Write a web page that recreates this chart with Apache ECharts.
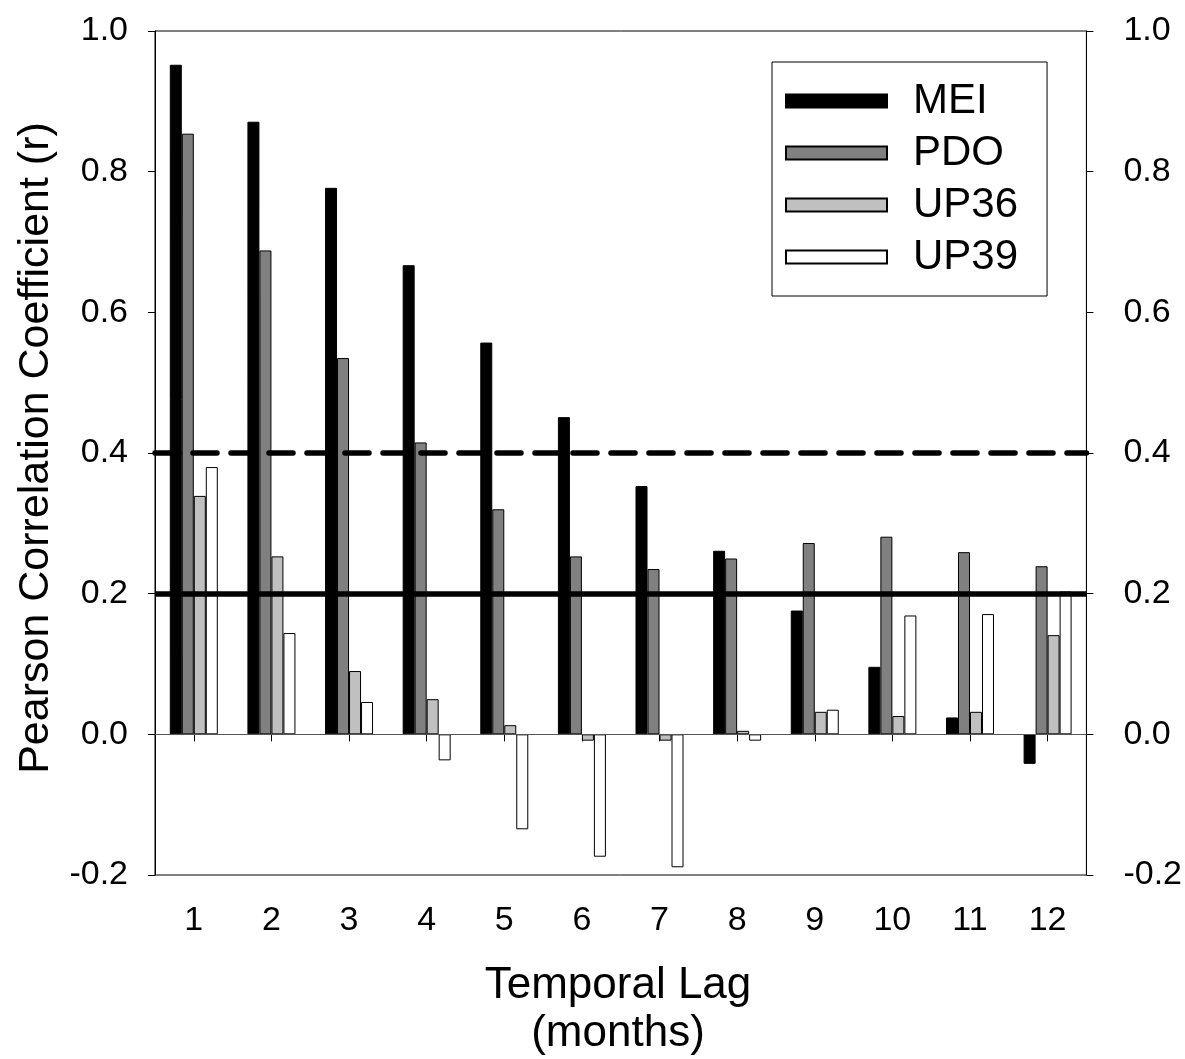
<!DOCTYPE html>
<html>
<head>
<meta charset="utf-8">
<script src="https://cdn.jsdelivr.net/npm/echarts@6/dist/echarts.min.js"></script>
<style>
html,body{margin:0;padding:0;background:#fff;}
#chart{width:1185px;height:1059px;}
</style>
</head>
<body>
<div id="chart"></div>
<script>
const categories = ['1','2','3','4','5','6','7','8','9','10','11','12'];
const MEI  = [0.952, 0.871, 0.777, 0.667, 0.557, 0.451, 0.353, 0.261, 0.176, 0.096, 0.024, -0.042];
const PDO  = [0.854, 0.688, 0.535, 0.415, 0.320, 0.253, 0.235, 0.250, 0.272, 0.281, 0.259, 0.239];
const UP36 = [0.339, 0.253, 0.090, 0.050, 0.013, -0.009, -0.009, 0.005, 0.032, 0.026, 0.032, 0.141];
const UP39 = [0.380, 0.144, 0.046, -0.037, -0.135, -0.174, -0.189, -0.009, 0.035, 0.169, 0.171, 0.203];
const yTicks = {min: -0.2, max: 1.0, interval: 0.2};
const dashedLevel = 0.4;
const solidLevel = 0.196;

const FONT = '"Liberation Sans", Arial, sans-serif';
const chart = echarts.init(document.getElementById('chart'), null, {renderer: 'canvas'});

function barSeries(name, data, color) {
  return {
    name: name, type: 'bar', data: data,
    barWidth: 12, barGap: '0%',
    itemStyle: {color: color, borderColor: '#000', borderWidth: 1},
    emphasis: {disabled: true},
    silent: true
  };
}

const yAxisCommon = {
  type: 'value', min: yTicks.min, max: yTicks.max, interval: yTicks.interval,
  axisLine: {show: true, lineStyle: {color: '#000', width: 1}},
  axisTick: {show: true, length: 7, lineStyle: {color: '#000', width: 1}},
  splitLine: {show: false},
  axisLabel: {color: '#000', fontSize: 34, fontFamily: FONT, formatter: v => v.toFixed(1)}
};

chart.setOption({
  animation: false,
  backgroundColor: '#fff',
  grid: {left: 155, right: 94, top: 31, bottom: 184, show: true, borderColor: '#000', borderWidth: 1},
  legend: {
    data: ['MEI', 'PDO', 'UP36', 'UP39'],
    orient: 'vertical', left: 772, top: 62,
    icon: 'rect', itemWidth: 101, itemHeight: 13, itemGap: 10,
    padding: [18, 29, 18, 13],
    borderColor: '#000', borderWidth: 1, backgroundColor: '#fff',
    textStyle: {color: '#000', fontSize: 42, fontFamily: FONT, lineHeight: 42, padding: [0, 0, 0, 21]},
    selectedMode: false
  },
  xAxis: {
    type: 'category', data: categories,
    axisLine: {show: true, lineStyle: {color: '#000', width: 1}},
    axisTick: {show: true, alignWithLabel: true, length: 7, lineStyle: {color: '#000', width: 1}},
    axisLabel: {color: '#000', fontSize: 34, fontFamily: FONT, margin: 29},
    splitLine: {show: false}
  },
  yAxis: [
    Object.assign({}, yAxisCommon, {position: 'left', axisLabel: Object.assign({}, yAxisCommon.axisLabel, {margin: 27})}),
    Object.assign({}, yAxisCommon, {position: 'right', axisLabel: Object.assign({}, yAxisCommon.axisLabel, {margin: 37})})
  ],
  graphic: [
    {
      type: 'text', silent: true,
      x: 618, y: 1010,
      style: {text: 'Temporal Lag\n(months)', font: '44px ' + FONT, fill: '#000',
              textAlign: 'center', textVerticalAlign: 'middle', lineHeight: 48}
    },
    {
      type: 'text', silent: true,
      x: 36, y: 448, rotation: Math.PI / 2,
      style: {text: 'Pearson Correlation Coefficient (r)', font: '43px ' + FONT, fill: '#000',
              textAlign: 'center', textVerticalAlign: 'middle'}
    }
  ],
  series: [
    barSeries('MEI', MEI, '#000000'),
    barSeries('PDO', PDO, '#808080'),
    barSeries('UP36', UP36, '#c0c0c0'),
    barSeries('UP39', UP39, '#ffffff'),
    {
      name: 'refs', type: 'line', data: [], silent: true, z: 5,
      markLine: {
        silent: true, symbol: 'none', label: {show: false}, animation: false,
        data: [
          {yAxis: 0, lineStyle: {color: '#555', width: 1, type: 'solid'}},
          {yAxis: solidLevel, lineStyle: {color: '#000', width: 5.5, type: 'solid'}},
          {yAxis: dashedLevel, lineStyle: {color: '#000', width: 5.5, type: [24, 14], cap: 'round'}}
        ]
      }
    }
  ]
});
</script>
</body>
</html>
